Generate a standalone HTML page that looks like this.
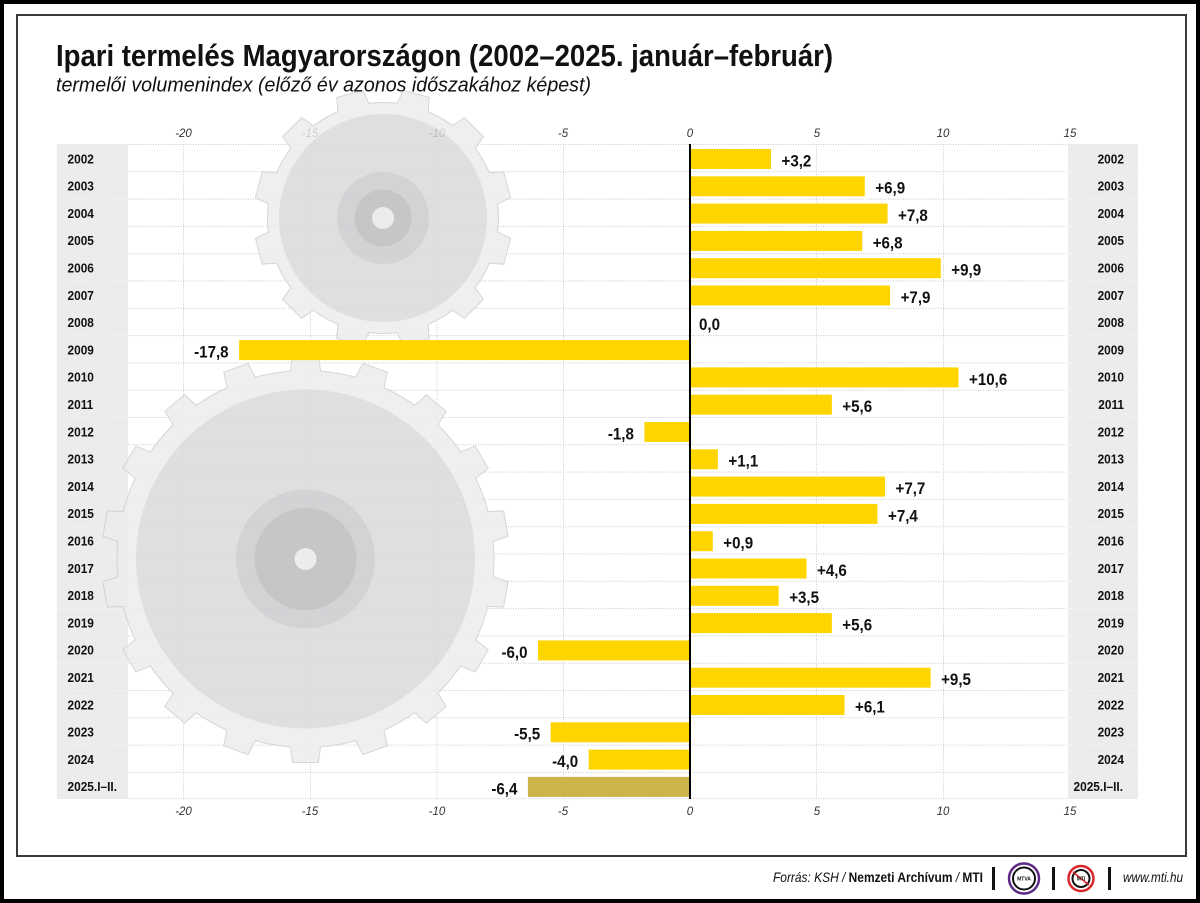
<!DOCTYPE html>
<html>
<head>
<meta charset="utf-8">
<style>
  html,body{margin:0;padding:0;background:#fff;}
  svg{display:block;}
  text{font-family:"Liberation Sans", Arial, sans-serif;}
</style>
</head>
<body>
<svg width="1200" height="903" viewBox="0 0 1200 903" xmlns="http://www.w3.org/2000/svg">
  <defs>
    <polygon id="btooth" points="-15,-185 -12.5,-203 12.5,-203 15,-185"/>
    <polygon id="stooth" points="-16,-112 -13,-128 13,-128 16,-112"/>
    <g id="bigShape">
      <circle cx="0" cy="0" r="188"/>
      <use href="#btooth" transform="rotate(0)"/>
      <use href="#btooth" transform="rotate(20)"/>
      <use href="#btooth" transform="rotate(40)"/>
      <use href="#btooth" transform="rotate(60)"/>
      <use href="#btooth" transform="rotate(80)"/>
      <use href="#btooth" transform="rotate(100)"/>
      <use href="#btooth" transform="rotate(120)"/>
      <use href="#btooth" transform="rotate(140)"/>
      <use href="#btooth" transform="rotate(160)"/>
      <use href="#btooth" transform="rotate(180)"/>
      <use href="#btooth" transform="rotate(200)"/>
      <use href="#btooth" transform="rotate(220)"/>
      <use href="#btooth" transform="rotate(240)"/>
      <use href="#btooth" transform="rotate(260)"/>
      <use href="#btooth" transform="rotate(280)"/>
      <use href="#btooth" transform="rotate(300)"/>
      <use href="#btooth" transform="rotate(320)"/>
      <use href="#btooth" transform="rotate(340)"/>
    </g>
    <g id="smallShape">
      <circle cx="0" cy="0" r="115"/>
      <use href="#stooth" transform="rotate(15)"/>
      <use href="#stooth" transform="rotate(45)"/>
      <use href="#stooth" transform="rotate(75)"/>
      <use href="#stooth" transform="rotate(105)"/>
      <use href="#stooth" transform="rotate(135)"/>
      <use href="#stooth" transform="rotate(165)"/>
      <use href="#stooth" transform="rotate(195)"/>
      <use href="#stooth" transform="rotate(225)"/>
      <use href="#stooth" transform="rotate(255)"/>
      <use href="#stooth" transform="rotate(285)"/>
      <use href="#stooth" transform="rotate(315)"/>
      <use href="#stooth" transform="rotate(345)"/>
    </g>
  </defs>

  <rect x="0" y="0" width="1200" height="903" fill="#fff"/>

  <!-- year columns -->
  <rect x="57" y="144" width="71" height="655" fill="#ececec"/>
  <rect x="1068" y="144" width="70" height="655" fill="#ececec"/>

  <!-- horizontal gridlines -->
  <g stroke="#c8c8c8" stroke-width="1" stroke-dasharray="1 1.5">
    <line x1="128" x2="1068" y1="144.5" y2="144.5"/>
    <line x1="128" x2="1068" y1="171.8" y2="171.8"/>
    <line x1="128" x2="1068" y1="199.1" y2="199.1"/>
    <line x1="128" x2="1068" y1="226.4" y2="226.4"/>
    <line x1="128" x2="1068" y1="253.7" y2="253.7"/>
    <line x1="128" x2="1068" y1="281" y2="281"/>
    <line x1="128" x2="1068" y1="308.3" y2="308.3"/>
    <line x1="128" x2="1068" y1="335.6" y2="335.6"/>
    <line x1="128" x2="1068" y1="362.9" y2="362.9"/>
    <line x1="128" x2="1068" y1="390.2" y2="390.2"/>
    <line x1="128" x2="1068" y1="417.5" y2="417.5"/>
    <line x1="128" x2="1068" y1="444.8" y2="444.8"/>
    <line x1="128" x2="1068" y1="472.1" y2="472.1"/>
    <line x1="128" x2="1068" y1="499.4" y2="499.4"/>
    <line x1="128" x2="1068" y1="526.7" y2="526.7"/>
    <line x1="128" x2="1068" y1="554" y2="554"/>
    <line x1="128" x2="1068" y1="581.3" y2="581.3"/>
    <line x1="128" x2="1068" y1="608.6" y2="608.6"/>
    <line x1="128" x2="1068" y1="635.9" y2="635.9"/>
    <line x1="128" x2="1068" y1="663.2" y2="663.2"/>
    <line x1="128" x2="1068" y1="690.5" y2="690.5"/>
    <line x1="128" x2="1068" y1="717.8" y2="717.8"/>
    <line x1="128" x2="1068" y1="745.1" y2="745.1"/>
    <line x1="128" x2="1068" y1="772.4" y2="772.4"/>
    <line x1="128" x2="1068" y1="798.7" y2="798.7"/>
  </g>
  <!-- column row separators -->
  <g stroke="#f8f8f8" stroke-width="1" stroke-dasharray="1 1.5">
    <line x1="57" x2="128" y1="171.8" y2="171.8"/><line x1="1068" x2="1138" y1="171.8" y2="171.8"/>
    <line x1="57" x2="128" y1="199.1" y2="199.1"/><line x1="1068" x2="1138" y1="199.1" y2="199.1"/>
    <line x1="57" x2="128" y1="226.4" y2="226.4"/><line x1="1068" x2="1138" y1="226.4" y2="226.4"/>
    <line x1="57" x2="128" y1="253.7" y2="253.7"/><line x1="1068" x2="1138" y1="253.7" y2="253.7"/>
    <line x1="57" x2="128" y1="281" y2="281"/><line x1="1068" x2="1138" y1="281" y2="281"/>
    <line x1="57" x2="128" y1="308.3" y2="308.3"/><line x1="1068" x2="1138" y1="308.3" y2="308.3"/>
    <line x1="57" x2="128" y1="335.6" y2="335.6"/><line x1="1068" x2="1138" y1="335.6" y2="335.6"/>
    <line x1="57" x2="128" y1="362.9" y2="362.9"/><line x1="1068" x2="1138" y1="362.9" y2="362.9"/>
    <line x1="57" x2="128" y1="390.2" y2="390.2"/><line x1="1068" x2="1138" y1="390.2" y2="390.2"/>
    <line x1="57" x2="128" y1="417.5" y2="417.5"/><line x1="1068" x2="1138" y1="417.5" y2="417.5"/>
    <line x1="57" x2="128" y1="444.8" y2="444.8"/><line x1="1068" x2="1138" y1="444.8" y2="444.8"/>
    <line x1="57" x2="128" y1="472.1" y2="472.1"/><line x1="1068" x2="1138" y1="472.1" y2="472.1"/>
    <line x1="57" x2="128" y1="499.4" y2="499.4"/><line x1="1068" x2="1138" y1="499.4" y2="499.4"/>
    <line x1="57" x2="128" y1="526.7" y2="526.7"/><line x1="1068" x2="1138" y1="526.7" y2="526.7"/>
    <line x1="57" x2="128" y1="554" y2="554"/><line x1="1068" x2="1138" y1="554" y2="554"/>
    <line x1="57" x2="128" y1="581.3" y2="581.3"/><line x1="1068" x2="1138" y1="581.3" y2="581.3"/>
    <line x1="57" x2="128" y1="608.6" y2="608.6"/><line x1="1068" x2="1138" y1="608.6" y2="608.6"/>
    <line x1="57" x2="128" y1="635.9" y2="635.9"/><line x1="1068" x2="1138" y1="635.9" y2="635.9"/>
    <line x1="57" x2="128" y1="663.2" y2="663.2"/><line x1="1068" x2="1138" y1="663.2" y2="663.2"/>
    <line x1="57" x2="128" y1="690.5" y2="690.5"/><line x1="1068" x2="1138" y1="690.5" y2="690.5"/>
    <line x1="57" x2="128" y1="717.8" y2="717.8"/><line x1="1068" x2="1138" y1="717.8" y2="717.8"/>
    <line x1="57" x2="128" y1="745.1" y2="745.1"/><line x1="1068" x2="1138" y1="745.1" y2="745.1"/>
    <line x1="57" x2="128" y1="772.4" y2="772.4"/><line x1="1068" x2="1138" y1="772.4" y2="772.4"/>
  </g>

  <!-- vertical gridlines -->
  <g stroke="#cfcfcf" stroke-width="1" stroke-dasharray="1 1.5">
    <line x1="183.5" x2="183.5" y1="144" y2="799"/>
    <line x1="310.5" x2="310.5" y1="144" y2="799"/>
    <line x1="437" x2="437" y1="144" y2="799"/>
    <line x1="563.5" x2="563.5" y1="144" y2="799"/>
    <line x1="816.5" x2="816.5" y1="144" y2="799"/>
    <line x1="943.5" x2="943.5" y1="144" y2="799"/>
  </g>

  <!-- tick labels -->
  <g font-size="11.5" font-style="italic" fill="#333" text-anchor="middle">
    <text x="183.5" y="137">-20</text>
    <text x="310" y="137">-15</text>
    <text x="437" y="137">-10</text>
    <text x="563" y="137">-5</text>
    <text x="690" y="137">0</text>
    <text x="817" y="137">5</text>
    <text x="943" y="137">10</text>
    <text x="1070" y="137">15</text>
    <text x="183.5" y="815">-20</text>
    <text x="310" y="815">-15</text>
    <text x="437" y="815">-10</text>
    <text x="563" y="815">-5</text>
    <text x="690" y="815">0</text>
    <text x="817" y="815">5</text>
    <text x="943" y="815">10</text>
    <text x="1070" y="815">15</text>
  </g>

  <!-- gears -->
  <g opacity="0.85">
    <g transform="translate(383,218)">
      <use href="#smallShape" fill="#ececec" stroke="#cfcfcf" stroke-width="2"/>
      <use href="#smallShape" fill="#ececec" stroke="none"/>
      <circle r="104" fill="#dadadc"/>
      <circle r="46" fill="#cccccf"/>
      <circle r="28.5" fill="#bcbcbe"/>
      <circle r="11" fill="#e9e9e9"/>
    </g>
    <g transform="translate(305.5,559)">
      <use href="#bigShape" fill="#ececec" stroke="#cfcfcf" stroke-width="2"/>
      <use href="#bigShape" fill="#ececec" stroke="none"/>
      <circle r="169.5" fill="#dadadc"/>
      <circle r="69.5" fill="#cccccf"/>
      <circle r="51" fill="#bcbcbe"/>
      <circle r="11" fill="#e9e9e9"/>
    </g>
  </g>

  <!-- bars -->
  <g fill="#ffd500">
    <rect x="690" y="149" width="81.06" height="20"/>
    <rect x="690" y="176.3" width="174.78" height="20"/>
    <rect x="690" y="203.6" width="197.57" height="20"/>
    <rect x="690" y="230.9" width="172.24" height="20"/>
    <rect x="690" y="258.2" width="250.77" height="20"/>
    <rect x="690" y="285.5" width="200.11" height="20"/>
    <rect x="239.13" y="340.1" width="450.87" height="20"/>
    <rect x="690" y="367.4" width="268.5" height="20"/>
    <rect x="690" y="394.7" width="141.85" height="20"/>
    <rect x="644.41" y="422" width="45.59" height="20"/>
    <rect x="690" y="449.3" width="27.86" height="20"/>
    <rect x="690" y="476.6" width="195.04" height="20"/>
    <rect x="690" y="503.9" width="187.44" height="20"/>
    <rect x="690" y="531.2" width="22.8" height="20"/>
    <rect x="690" y="558.5" width="116.52" height="20"/>
    <rect x="690" y="585.8" width="88.66" height="20"/>
    <rect x="690" y="613.1" width="141.85" height="20"/>
    <rect x="538.02" y="640.4" width="151.98" height="20"/>
    <rect x="690" y="667.7" width="240.64" height="20"/>
    <rect x="690" y="695" width="154.51" height="20"/>
    <rect x="550.68" y="722.3" width="139.32" height="20"/>
    <rect x="588.68" y="749.6" width="101.32" height="20"/>
  </g>
  <rect x="527.89" y="776.9" width="162.11" height="20" fill="#ccb34a"/>

  <!-- zero line -->
  <rect x="689" y="144" width="2" height="655" fill="#000"/>

  <!-- value labels -->
  <g font-size="17" font-weight="bold" fill="#111">
    <text transform="translate(781.5,166.4) scale(0.89 1)">+3,2</text>
    <text transform="translate(875.3,193.7) scale(0.89 1)">+6,9</text>
    <text transform="translate(898,221) scale(0.89 1)">+7,8</text>
    <text transform="translate(872.7,248.3) scale(0.89 1)">+6,8</text>
    <text transform="translate(951.3,275.6) scale(0.89 1)">+9,9</text>
    <text transform="translate(900.6,302.9) scale(0.89 1)">+7,9</text>
    <text transform="translate(699,330.2) scale(0.89 1)">0,0</text>
    <text transform="translate(228.6,357.5) scale(0.89 1)" text-anchor="end">-17,8</text>
    <text transform="translate(969,384.8) scale(0.89 1)">+10,6</text>
    <text transform="translate(842.3,412.1) scale(0.89 1)">+5,6</text>
    <text transform="translate(633.9,439.4) scale(0.89 1)" text-anchor="end">-1,8</text>
    <text transform="translate(728.4,466.7) scale(0.89 1)">+1,1</text>
    <text transform="translate(895.5,494) scale(0.89 1)">+7,7</text>
    <text transform="translate(888,521.3) scale(0.89 1)">+7,4</text>
    <text transform="translate(723.3,548.6) scale(0.89 1)">+0,9</text>
    <text transform="translate(817,575.9) scale(0.89 1)">+4,6</text>
    <text transform="translate(789.2,603.2) scale(0.89 1)">+3,5</text>
    <text transform="translate(842.3,630.5) scale(0.89 1)">+5,6</text>
    <text transform="translate(527.5,657.8) scale(0.89 1)" text-anchor="end">-6,0</text>
    <text transform="translate(941.1,685.1) scale(0.89 1)">+9,5</text>
    <text transform="translate(855,712.4) scale(0.89 1)">+6,1</text>
    <text transform="translate(540.2,739.7) scale(0.89 1)" text-anchor="end">-5,5</text>
    <text transform="translate(578.2,767) scale(0.89 1)" text-anchor="end">-4,0</text>
    <text transform="translate(517.4,794.3) scale(0.89 1)" text-anchor="end">-6,4</text>
  </g>

  <!-- year labels left -->
  <g font-size="12.5" font-weight="bold" fill="#111">
    <text transform="translate(67.5,163.3) scale(0.95 1)">2002</text>
    <text transform="translate(67.5,190.6) scale(0.95 1)">2003</text>
    <text transform="translate(67.5,217.9) scale(0.95 1)">2004</text>
    <text transform="translate(67.5,245.2) scale(0.95 1)">2005</text>
    <text transform="translate(67.5,272.5) scale(0.95 1)">2006</text>
    <text transform="translate(67.5,299.8) scale(0.95 1)">2007</text>
    <text transform="translate(67.5,327.1) scale(0.95 1)">2008</text>
    <text transform="translate(67.5,354.4) scale(0.95 1)">2009</text>
    <text transform="translate(67.5,381.7) scale(0.95 1)">2010</text>
    <text transform="translate(67.5,409) scale(0.95 1)">2011</text>
    <text transform="translate(67.5,436.3) scale(0.95 1)">2012</text>
    <text transform="translate(67.5,463.6) scale(0.95 1)">2013</text>
    <text transform="translate(67.5,490.9) scale(0.95 1)">2014</text>
    <text transform="translate(67.5,518.2) scale(0.95 1)">2015</text>
    <text transform="translate(67.5,545.5) scale(0.95 1)">2016</text>
    <text transform="translate(67.5,572.8) scale(0.95 1)">2017</text>
    <text transform="translate(67.5,600.1) scale(0.95 1)">2018</text>
    <text transform="translate(67.5,627.4) scale(0.95 1)">2019</text>
    <text transform="translate(67.5,654.7) scale(0.95 1)">2020</text>
    <text transform="translate(67.5,682) scale(0.95 1)">2021</text>
    <text transform="translate(67.5,709.3) scale(0.95 1)">2022</text>
    <text transform="translate(67.5,736.6) scale(0.95 1)">2023</text>
    <text transform="translate(67.5,763.9) scale(0.95 1)">2024</text>
    <text transform="translate(67.5,791.2) scale(0.95 1)">2025.I–II.</text>
  </g>
  <!-- year labels right -->
  <g font-size="12.5" font-weight="bold" fill="#111" text-anchor="end">
    <text transform="translate(1124,163.3) scale(0.95 1)">2002</text>
    <text transform="translate(1124,190.6) scale(0.95 1)">2003</text>
    <text transform="translate(1124,217.9) scale(0.95 1)">2004</text>
    <text transform="translate(1124,245.2) scale(0.95 1)">2005</text>
    <text transform="translate(1124,272.5) scale(0.95 1)">2006</text>
    <text transform="translate(1124,299.8) scale(0.95 1)">2007</text>
    <text transform="translate(1124,327.1) scale(0.95 1)">2008</text>
    <text transform="translate(1124,354.4) scale(0.95 1)">2009</text>
    <text transform="translate(1124,381.7) scale(0.95 1)">2010</text>
    <text transform="translate(1124,409) scale(0.95 1)">2011</text>
    <text transform="translate(1124,436.3) scale(0.95 1)">2012</text>
    <text transform="translate(1124,463.6) scale(0.95 1)">2013</text>
    <text transform="translate(1124,490.9) scale(0.95 1)">2014</text>
    <text transform="translate(1124,518.2) scale(0.95 1)">2015</text>
    <text transform="translate(1124,545.5) scale(0.95 1)">2016</text>
    <text transform="translate(1124,572.8) scale(0.95 1)">2017</text>
    <text transform="translate(1124,600.1) scale(0.95 1)">2018</text>
    <text transform="translate(1124,627.4) scale(0.95 1)">2019</text>
    <text transform="translate(1124,654.7) scale(0.95 1)">2020</text>
    <text transform="translate(1124,682) scale(0.95 1)">2021</text>
    <text transform="translate(1124,709.3) scale(0.95 1)">2022</text>
    <text transform="translate(1124,736.6) scale(0.95 1)">2023</text>
    <text transform="translate(1124,763.9) scale(0.95 1)">2024</text>
    <text transform="translate(1123,791.2) scale(0.95 1)">2025.I–II.</text>
  </g>

  <!-- title & subtitle -->
  <text x="56" y="66" font-size="31" font-weight="bold" fill="#111" textLength="777" lengthAdjust="spacingAndGlyphs">Ipari termelés Magyarországon (2002–2025. január–február)</text>
  <text x="56" y="91.5" font-size="20" font-style="italic" fill="#111" textLength="535" lengthAdjust="spacingAndGlyphs">termelői volumenindex (előző év azonos időszakához képest)</text>

  <!-- footer -->
  <text x="773" y="882" font-size="14" fill="#111" textLength="210" lengthAdjust="spacingAndGlyphs"><tspan font-style="italic">Forrás: KSH / </tspan><tspan font-weight="bold">Nemzeti Archívum</tspan><tspan font-style="italic"> / </tspan><tspan font-weight="bold">MTI</tspan></text>
  <rect x="992" y="867" width="3" height="23" fill="#111"/>
  <circle cx="1024" cy="878.5" r="15" fill="#fff" stroke="#5b2a86" stroke-width="2.5"/>
  <circle cx="1024" cy="878.5" r="11" fill="#fff" stroke="#111" stroke-width="2"/>
  <text x="1024" y="880.3" font-size="5" font-weight="bold" text-anchor="middle" fill="#111">MTVA</text>
  <rect x="1052" y="867" width="3" height="23" fill="#111"/>
  <circle cx="1081" cy="878.5" r="12.5" fill="#fff" stroke="#d9262c" stroke-width="2.5"/>
  <circle cx="1081" cy="878.5" r="8.5" fill="#fff" stroke="#111" stroke-width="2"/>
  <line x1="1073" y1="872" x2="1089" y2="885" stroke="#d9262c" stroke-width="1.5"/>
  <text x="1081" y="880.3" font-size="5" font-weight="bold" text-anchor="middle" fill="#111">MTI</text>
  <rect x="1108" y="867" width="3" height="23" fill="#111"/>
  <text x="1123" y="882" font-size="14" font-style="italic" fill="#111" textLength="60" lengthAdjust="spacingAndGlyphs">www.mti.hu</text>

  <!-- frames -->
  <rect x="17" y="15" width="1169" height="841" fill="none" stroke="#3a3a3a" stroke-width="2"/>
  <rect x="2" y="2" width="1196" height="899" fill="none" stroke="#000" stroke-width="4"/>
</svg>
</body>
</html>
